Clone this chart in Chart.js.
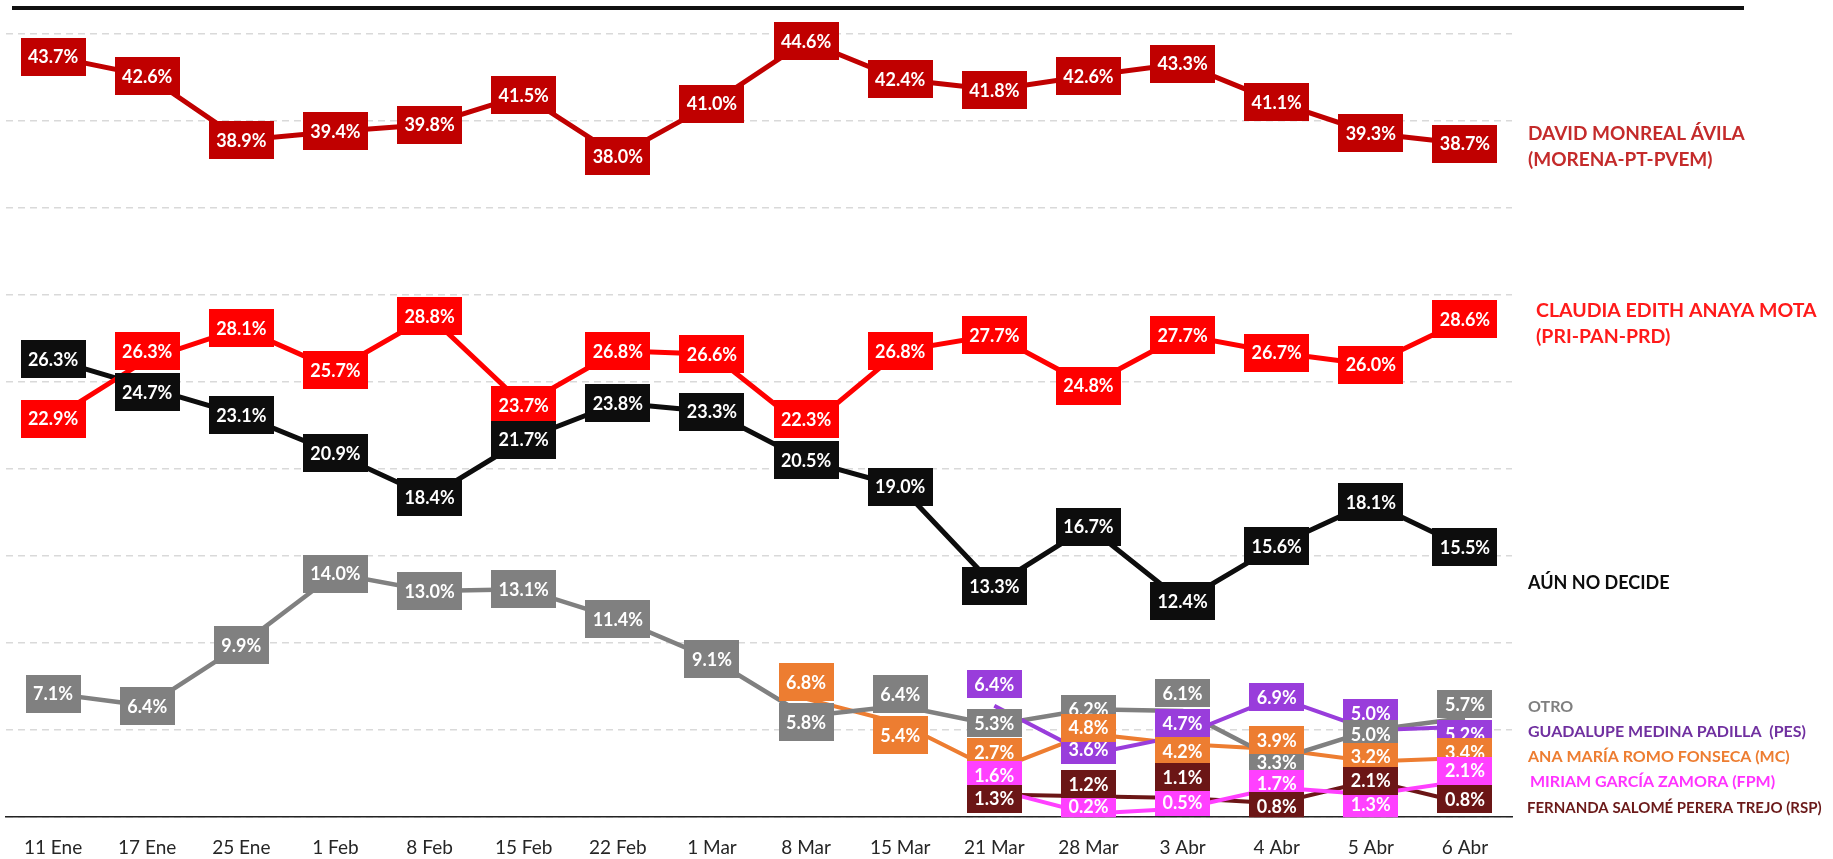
<!DOCTYPE html>
<html>
<head>
<meta charset="utf-8">
<script src="https://cdn.jsdelivr.net/npm/chart.js@4.4.1/dist/chart.umd.min.js"></script>
<style>
  html, body { margin: 0; padding: 0; background: #fff; }
</style>
</head>
<body>
<canvas id="chart" width="1833" height="859"></canvas>
<script>
// Data
const categories = ['11 Ene', '17 Ene', '25 Ene', '1 Feb', '8 Feb', '15 Feb', '22 Feb', '1 Mar',
  '8 Mar', '15 Mar', '21 Mar', '28 Mar', '3 Abr', '4 Abr', '5 Abr', '6 Abr'];

const monreal = [43.7, 42.6, 38.9, 39.4, 39.8, 41.5, 38.0, 41.0, 44.6, 42.4, 41.8, 42.6, 43.3, 41.1, 39.3, 38.7];
const anaya   = [22.9, 26.3, 28.1, 25.7, 28.8, 23.7, 26.8, 26.6, 22.3, 26.8, 27.7, 24.8, 27.7, 26.7, 26.0, 28.6];
const noDecide = [26.3, 24.7, 23.1, 20.9, 18.4, 21.7, 23.8, 23.3, 20.5, 19.0, 13.3, 16.7, 12.4, 15.6, 18.1, 15.5];
const otro    = [7.1, 6.4, 9.9, 14.0, 13.0, 13.1, 11.4, 9.1, 5.8, 6.4, 5.3, 6.2, 6.1, 3.3, 5.0, 5.7];
const medina  = [null, null, null, null, null, null, null, null, null, null, 6.4, 3.6, 4.7, 6.9, 5.0, 5.2];
const romo    = [null, null, null, null, null, null, null, null, 6.8, 5.4, 2.7, 4.8, 4.2, 3.9, 3.2, 3.4];
const garcia  = [null, null, null, null, null, null, null, null, null, null, 1.6, 0.2, 0.5, 1.7, 1.3, 2.1];
const perera  = [null, null, null, null, null, null, null, null, null, null, 1.3, 1.2, 1.1, 0.8, 2.1, 0.8];

// label nudges in px (crowded area), one array per series below
const nudgeAnaya  = [0, -8, 0, 0, 0, 0, 0, 0, -10, 0, 0, 0, 0, 0, 0, 0];
const nudgeNoDec  = [0, 5, 0, 0, 0, 0, 0, 0, 0, 0, 0, 0, 0, 0, 0, 0];
const nudgeOtro   = [0, 0, 0, 0, 0, 0, 0, 0, 6, -12, -2, 0, -18, 2, 4, -14];
const nudgeMedina = [0, 0, 0, 0, 0, 0, 0, 0, 0, 0, -22, -5, -12, 0, -17, 7];
const nudgeRomo   = [0, 0, 0, 0, 0, 0, 0, 0, -17, 12, -18, -6, 7, -9, -5, -6];
const nudgeGarcia = [0, 0, 0, 0, 0, 0, 0, 0, 0, 0, -14, -8, -6, -4, 10, -10];
const nudgePerera = [0, 0, 0, 0, 0, 0, 0, 0, 0, 0, 4, -12, -21, 3, 0, -4];

const series = [
  { name: 'DAVID MONREAL ÁVILA (MORENA-PT-PVEM)', data: monreal, color: '#c00000', width: 5, nudge: null },
  { name: 'CLAUDIA EDITH ANAYA MOTA (PRI-PAN-PRD)', data: anaya, color: '#ff0000', width: 5, nudge: nudgeAnaya },
  { name: 'AÚN NO DECIDE', data: noDecide, color: '#0d0d0d', width: 5, nudge: nudgeNoDec },
  { name: 'GUADALUPE MEDINA PADILLA (PES)', data: medina, color: '#993ddb', width: 4, nudge: nudgeMedina },
  { name: 'OTRO', data: otro, color: '#808080', width: 4.5, nudge: nudgeOtro },
  { name: 'ANA MARÍA ROMO FONSECA (MC)', data: romo, color: '#ed7d31', width: 4, nudge: nudgeRomo },
  { name: 'MIRIAM GARCÍA ZAMORA (FPM)', data: garcia, color: '#ff40ff', width: 4, nudge: nudgeGarcia },
  { name: 'FERNANDA SALOMÉ PERERA TREJO (RSP)', data: perera, color: '#6b1616', width: 4, nudge: nudgePerera }
];

// right side names
const sideNames = [
  { lines: ['DAVID MONREAL ÁVILA', '(MORENA-PT-PVEM)'], color: '#c42b2b', x: 1528, y: 134, size: 19 },
  { lines: ['CLAUDIA EDITH ANAYA MOTA', '(PRI-PAN-PRD)'], color: '#ff1a1a', x: 1536, y: 311, size: 19.5 },
  { lines: ['AÚN NO DECIDE'], color: '#0d0d0d', x: 1528, y: 583, size: 18 },
  { lines: ['OTRO'], color: '#7f7f7f', x: 1528, y: 707, size: 16 },
  { lines: ['GUADALUPE MEDINA PADILLA  (PES)'], color: '#7030a0', x: 1528, y: 732, size: 16 },
  { lines: ['ANA MARÍA ROMO FONSECA (MC)'], color: '#ed7d31', x: 1528, y: 757, size: 16 },
  { lines: ['MIRIAM GARCÍA ZAMORA (FPM)'], color: '#ff33ff', x: 1530, y: 782, size: 16 },
  { lines: ['FERNANDA SALOMÉ PERERA TREJO (RSP)'], color: '#6b1a1a', x: 1527, y: 808, size: 15 }
];

// Box labels on every point
const boxLabels = {
  id: 'boxLabels',
  afterDatasetsDraw(chart) {
    const ctx = chart.ctx;
    const area = chart.chartArea;
    ctx.save();
    ctx.beginPath();
    ctx.rect(0, 0, chart.width, area.bottom);
    ctx.clip();
    ctx.font = 'bold 18px Lato';
    ctx.textAlign = 'center';
    ctx.textBaseline = 'middle';
    series.forEach((s, di) => {
      const meta = chart.getDatasetMeta(di);
      meta.data.forEach((pt, i) => {
        const v = s.data[i];
        if (v == null) return;
        const txt = v.toFixed(1) + '%';
        const w = Math.round(ctx.measureText(txt).width + 15);
        const h = (i >= 10 && v < 8) ? 28 : 38;
        const dy = s.nudge ? s.nudge[i] : 0;
        const cx = pt.x, cy = pt.y + dy;
        ctx.fillStyle = s.color;
        ctx.fillRect(Math.round(cx - w / 2), Math.round(cy - h / 2), w, h);
        ctx.fillStyle = '#fff';
        ctx.fillText(txt, cx, cy + 1);
      });
    });
    ctx.restore();
  }
};

const decorations = {
  id: 'decorations',
  afterDraw(chart) {
    const ctx = chart.ctx;
    ctx.save();
    // top rule
    ctx.fillStyle = '#111';
    ctx.fillRect(12, 6, 1732, 4);
    // side names
    ctx.textAlign = 'left';
    ctx.textBaseline = 'middle';
    sideNames.forEach(n => {
      ctx.font = 'bold ' + n.size + 'px Lato';
      ctx.fillStyle = n.color;
      n.lines.forEach((line, k) => {
        ctx.fillText(line, n.x, n.y + k * 26);
      });
    });
    ctx.restore();
  }
};

const ctx = document.getElementById('chart').getContext('2d');
new Chart(ctx, {
  type: 'line',
  data: {
    labels: categories,
    datasets: series.map(s => ({
      label: s.name,
      data: s.data,
      borderColor: s.color,
      backgroundColor: s.color,
      borderWidth: s.width,
      pointRadius: 0,
      tension: 0,
      fill: false
    }))
  },
  options: {
    responsive: false,
    animation: false,
    // x axis reserves tick padding twice, so pull the bottom back
    layout: { padding: { left: 6, right: 321, top: 34, bottom: -19 } },
    plugins: {
      legend: { display: false },
      tooltip: { enabled: false }
    },
    scales: {
      x: {
        offset: true,
        grid: { display: false, drawTicks: false },
        border: { display: true, color: '#222', width: 1.5 },
        ticks: { color: '#262626', padding: 19, font: { family: 'Lato', size: 19 } }
      },
      y: {
        min: 0,
        max: 45,
        ticks: { display: false, stepSize: 5 },
        border: { display: false, dash: [7, 5] },
        grid: { color: '#d9d9d9', lineWidth: 1.5, drawTicks: false }
      }
    }
  },
  plugins: [boxLabels, decorations]
});
</script>
</body>
</html>
